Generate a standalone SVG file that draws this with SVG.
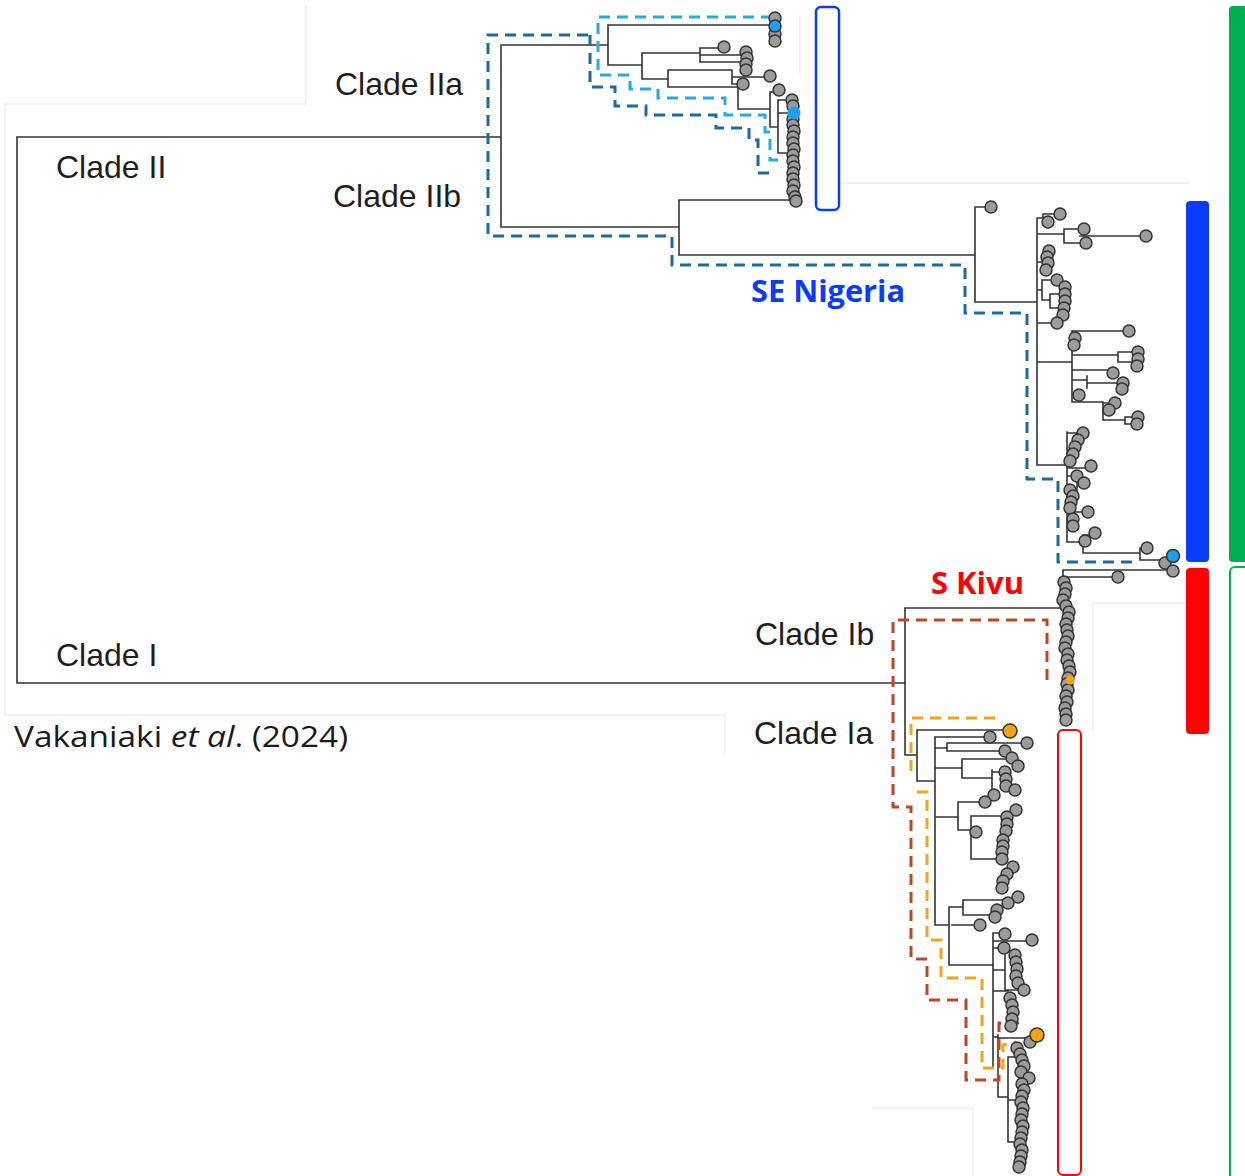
<svg xmlns="http://www.w3.org/2000/svg" width="1245" height="1176" viewBox="0 0 1245 1176">
<style>
.br{fill:none;stroke:#333;stroke-width:1.6;stroke-linecap:square}
.tip circle{fill:#9b9b9b;stroke:#333;stroke-width:1.5}
.frame{fill:none;stroke:#e4e4e4;stroke-width:1}
.dd{fill:none;stroke:#1d6a9c;stroke-width:3;stroke-dasharray:11 7}
.dl{fill:none;stroke:#29a9e1;stroke-width:3;stroke-dasharray:11 7}
.dr{fill:none;stroke:#c0461e;stroke-width:3;stroke-dasharray:11 7}
.do{fill:none;stroke:#f5a418;stroke-width:3;stroke-dasharray:11 7}
.clade{font-family:"Liberation Sans",Arial,sans-serif;font-size:32px;fill:#1e1e1e}
.cit{font-family:"Open Sans","Liberation Sans",sans-serif;font-size:30px;fill:#1a1a1a}
.reg{font-family:"Open Sans","Liberation Sans",sans-serif;font-size:30px;font-weight:bold}
</style>
<rect width="1245" height="1176" fill="#ffffff"/>
<g id="frames">
<path class="frame" d="M5,104 H306 V5 M5,104 V715 H725 V755 M800,15 V75 M838,183 H1190 M1093,730 V603 H1185 M872,1108 H973 V1176"/>
</g>
<g id="connectors">
<path class="br" d="M17,137 V683 M17,137 H501 M17,683 H905
M501,45 V227 M501,45 H608 M608,25 V65 M608,25 H775 M608,65 H642 M642,53 V79 M642,53 H700 M700,48 V62 M700,48 H724 M700,55 H745 M700,62 H745
M642,79 H668 M668,70 V87 M668,70 H732 M732,70 V84 M732,77 H770 M732,84 H743 M668,87 H738 M738,87 V109 M738,109 H770 M770,92 V127 M770,92 H778 M770,127 H778 M778,100 V153 M778,100 H790 M778,113 H790 M778,153 H790
M501,227 H679 M679,200 V255 M679,200 H793 M679,255 H975
M975,207 V302 M975,207 H991 M975,302 H1037
M1037,218 V465 M1037,218 H1043 M1043,214 V222 M1043,214 H1060 M1043,222 H1048 M1037,234 H1064 M1064,229 V243 M1064,229 H1084 M1064,243 H1086 M1080,236 H1146 M1037,262 H1044
M1037,290 H1042 M1042,280 V300 M1042,280 H1057 M1042,300 H1050 M1050,294 V308 M1050,294 H1063 M1050,308 H1063 M1037,323 H1057 M1037,362 H1072
M1072,331 V402 M1072,331 H1129 M1072,340 H1075 M1072,355 H1118 M1118,352 V362 M1118,352 H1138 M1118,362 H1138 M1072,370 H1107 M1072,380 H1087 M1087,376 V388 M1087,383 H1123 M1072,395 H1079 M1072,402 H1103 M1103,402 V420 M1103,403 H1115 M1103,420 H1125 M1125,417 V424 M1125,417 H1138 M1125,424 H1137
M1037,465 H1067 M1067,432 V542 M1067,433 H1083 M1067,450 H1073 M1067,468 H1091 M1067,476 H1077 M1077,476 V490 M1077,483 H1084 M1067,500 H1070 M1067,512 H1088 M1067,522 H1073 M1067,542 H1083 M1083,535 V553 M1083,535 H1095 M1083,553 H1140 M1140,548 V560 M1140,548 H1147 M1140,560 H1165
M1063,570 V608 M1063,570 H1173 M1063,577 H1118
M905,608 V755 M905,608 H1063 M905,755 H917 M917,730 V781 M917,730 H1004 M917,781 H935
M935,737 V925 M935,737 H985 M935,748 H947 M947,743 V751 M947,743 H1022 M947,751 H1000 M935,768 H962 M962,759 V778 M962,759 H1008 M962,778 H992 M992,770 V798 M992,772 H1005 M992,798 H994
M935,817 H958 M958,802 V830 M958,802 H985 M958,830 H971 M971,816 V859 M971,816 H1003 M971,832 H976 M971,859 H998
M935,925 H949 M949,907 V965 M949,907 H963 M963,900 V915 M963,900 H1010 M963,915 H990 M952,925 H977
M949,965 H993 M993,933 V1067 M993,933 H1005 M993,941 H1027 M993,948 H1000 M993,970 H1005 M1005,955 V990 M1005,990 H1020 M993,991 H1008 M1008,995 V1026 M993,1037 H998 M998,1035 V1097 M998,1038 H1030 M998,1097 H1008 M1008,1057 V1142 M1008,1057 H1017 M1008,1100 H1020 M1008,1142 H1020"/>
</g>
<g id="clade-outlines">
<path id="outline-IIa" class="dl" d="M772,17 H598 V75 H630 V89 H658 V98 H725 V115 H765 V132 H770 V160 H780"/>
<path id="outline-II" class="dd" d="M588,35 H488 V236 H672 V265 H965 V313 H1027 V479 H1058 V562 H1135 M590,35 V87 H615 V106 H646 V115 H716 V128 H749 V140 H758 V173 H773"/>
<path id="outline-I" class="dr" d="M1047,680 V620 H893 V807 H911 V959 H927 V1000 H966 V1080 H999 V1023 H1025"/>
<path id="outline-Ia" class="do" d="M995,718 H911 V777 M917,792 H927 V940 H941 V978 H982 V1068 H1003 V1045 L1016,1042"/>
</g>
<g id="tips" class="tip">
<circle cx="775" cy="18" r="6"/><circle cx="775" cy="34" r="6"/><circle cx="775" cy="41" r="6"/>
<circle cx="724" cy="47" r="6"/><circle cx="746" cy="52" r="6"/><circle cx="747" cy="58" r="6"/><circle cx="746" cy="64" r="6"/><circle cx="746" cy="70" r="6"/>
<circle cx="770" cy="76" r="6"/><circle cx="743" cy="84" r="6"/><circle cx="779" cy="90" r="6"/>
<circle cx="792" cy="100" r="6"/><circle cx="793" cy="106" r="6"/><circle cx="793" cy="119" r="6"/><circle cx="793" cy="125" r="6"/><circle cx="794" cy="131" r="6"/><circle cx="793" cy="137" r="6"/><circle cx="793" cy="143" r="6"/><circle cx="794" cy="149" r="6"/><circle cx="793" cy="155" r="6"/><circle cx="793" cy="161" r="6"/><circle cx="794" cy="167" r="6"/><circle cx="793" cy="173" r="6"/><circle cx="793" cy="179" r="6"/><circle cx="794" cy="185" r="6"/><circle cx="793" cy="191" r="6"/><circle cx="795" cy="197" r="6"/><circle cx="796" cy="201" r="6"/>
<circle cx="991" cy="207" r="6"/><circle cx="1060" cy="214" r="6"/><circle cx="1048" cy="222" r="6"/><circle cx="1084" cy="229" r="6"/><circle cx="1086" cy="243" r="6"/><circle cx="1146" cy="236" r="6"/>
<circle cx="1049" cy="251" r="6"/><circle cx="1047" cy="257" r="6"/><circle cx="1048" cy="263" r="6"/><circle cx="1046" cy="270" r="6"/><circle cx="1057" cy="280" r="6"/>
<circle cx="1065" cy="287" r="6"/><circle cx="1065" cy="294" r="6"/><circle cx="1065" cy="301" r="6"/><circle cx="1064" cy="308" r="6"/><circle cx="1063" cy="315" r="6"/><circle cx="1057" cy="323" r="6"/>
<circle cx="1129" cy="331" r="6"/><circle cx="1075" cy="338" r="6"/><circle cx="1074" cy="345" r="6"/><circle cx="1138" cy="352" r="6"/><circle cx="1138" cy="359" r="6"/><circle cx="1137" cy="366" r="6"/>
<circle cx="1113" cy="373" r="6"/><circle cx="1123" cy="383" r="6"/><circle cx="1122" cy="389" r="6"/><circle cx="1079" cy="395" r="6"/><circle cx="1115" cy="403" r="6"/><circle cx="1109" cy="410" r="6"/><circle cx="1138" cy="417" r="6"/><circle cx="1137" cy="424" r="6"/>
<circle cx="1083" cy="433" r="6"/><circle cx="1078" cy="440" r="6"/><circle cx="1075" cy="447" r="6"/><circle cx="1073" cy="454" r="6"/><circle cx="1070" cy="461" r="6"/><circle cx="1091" cy="466" r="6"/><circle cx="1077" cy="476" r="6"/><circle cx="1084" cy="483" r="6"/>
<circle cx="1070" cy="490" r="6"/><circle cx="1073" cy="496" r="6"/><circle cx="1071" cy="502" r="6"/><circle cx="1070" cy="508" r="6"/><circle cx="1088" cy="512" r="6"/><circle cx="1073" cy="519" r="6"/><circle cx="1073" cy="526" r="6"/><circle cx="1095" cy="533" r="6"/><circle cx="1085" cy="541" r="6"/>
<circle cx="1147" cy="548" r="6"/><circle cx="1165" cy="563" r="6"/><circle cx="1173" cy="571" r="6"/><circle cx="1118" cy="577" r="6"/>
<circle cx="1064" cy="582" r="6"/><circle cx="1066" cy="588" r="6"/><circle cx="1065" cy="594" r="6"/><circle cx="1063" cy="600" r="6"/><circle cx="1066" cy="606" r="6"/><circle cx="1069" cy="612" r="6"/><circle cx="1068" cy="618" r="6"/><circle cx="1066" cy="624" r="6"/><circle cx="1067" cy="630" r="6"/><circle cx="1068" cy="636" r="6"/><circle cx="1066" cy="642" r="6"/><circle cx="1065" cy="648" r="6"/><circle cx="1068" cy="654" r="6"/><circle cx="1067" cy="660" r="6"/><circle cx="1069" cy="666" r="6"/><circle cx="1070" cy="672" r="6"/><circle cx="1068" cy="678" r="6"/><circle cx="1067" cy="684" r="6"/><circle cx="1068" cy="690" r="6"/><circle cx="1066" cy="696" r="6"/><circle cx="1067" cy="702" r="6"/><circle cx="1065" cy="708" r="6"/><circle cx="1066" cy="714" r="6"/><circle cx="1066" cy="720" r="6"/>
<circle cx="990" cy="737" r="6"/><circle cx="1027" cy="743" r="6"/><circle cx="1005" cy="751" r="6"/><circle cx="1012" cy="758" r="6"/><circle cx="1018" cy="766" r="6"/><circle cx="1005" cy="772" r="6"/><circle cx="1006" cy="779" r="6"/><circle cx="1006" cy="786" r="6"/><circle cx="1015" cy="790" r="6"/><circle cx="994" cy="795" r="6"/><circle cx="985" cy="802" r="6"/>
<circle cx="1016" cy="810" r="6"/><circle cx="1007" cy="817" r="6"/><circle cx="1007" cy="824" r="6"/><circle cx="1006" cy="831" r="6"/><circle cx="976" cy="832" r="6"/><circle cx="1003" cy="840" r="6"/><circle cx="1003" cy="846" r="6"/><circle cx="1002" cy="852" r="6"/><circle cx="1002" cy="859" r="6"/><circle cx="1013" cy="867" r="6"/><circle cx="1007" cy="874" r="6"/><circle cx="1003" cy="881" r="6"/><circle cx="1002" cy="888" r="6"/>
<circle cx="1018" cy="897" r="6"/><circle cx="1008" cy="903" r="6"/><circle cx="997" cy="910" r="6"/><circle cx="995" cy="917" r="6"/><circle cx="980" cy="925" r="6"/>
<circle cx="1005" cy="934" r="6"/><circle cx="1032" cy="940" r="6"/><circle cx="1004" cy="948" r="6"/><circle cx="1015" cy="955" r="6"/><circle cx="1016" cy="962" r="6"/><circle cx="1017" cy="969" r="6"/><circle cx="1016" cy="976" r="6"/><circle cx="1018" cy="983" r="6"/><circle cx="1024" cy="990" r="6"/>
<circle cx="1010" cy="998" r="6"/><circle cx="1012" cy="1005" r="6"/><circle cx="1013" cy="1012" r="6"/><circle cx="1012" cy="1019" r="6"/><circle cx="1011" cy="1026" r="6"/><circle cx="1030" cy="1042" r="6"/>
<circle cx="1017" cy="1048" r="6"/><circle cx="1020" cy="1054" r="6"/><circle cx="1022" cy="1060" r="6"/><circle cx="1024" cy="1066" r="6"/><circle cx="1021" cy="1072" r="6"/><circle cx="1029" cy="1078" r="6"/><circle cx="1022" cy="1084" r="6"/><circle cx="1024" cy="1090" r="6"/><circle cx="1022" cy="1096" r="6"/><circle cx="1021" cy="1102" r="6"/><circle cx="1023" cy="1108" r="6"/><circle cx="1022" cy="1114" r="6"/><circle cx="1021" cy="1120" r="6"/><circle cx="1023" cy="1126" r="6"/><circle cx="1022" cy="1132" r="6"/><circle cx="1021" cy="1138" r="6"/><circle cx="1020" cy="1144" r="6"/><circle cx="1022" cy="1150" r="6"/><circle cx="1021" cy="1156" r="6"/><circle cx="1020" cy="1162" r="6"/><circle cx="1019" cy="1167" r="6"/>
<circle cx="775" cy="26" r="6" style="fill:#1ea0ea"/><circle cx="794" cy="113" r="6.5" style="fill:#1ea0ea;stroke:none"/><circle cx="1173" cy="556" r="6.5" style="fill:#1ea0ea;stroke:#333"/>
<circle cx="1070" cy="680" r="4.5" style="fill:#f5a418;stroke:none"/><circle cx="1010" cy="731" r="7" style="fill:#f5a418"/><circle cx="1037" cy="1035" r="7" style="fill:#f5a418"/>
</g>
<g id="labels">
<text id="label-clade-IIa" class="clade" x="335" y="95">Clade IIa</text>
<text id="label-clade-II" class="clade" x="56" y="178">Clade II</text>
<text id="label-clade-IIb" class="clade" x="333" y="207">Clade IIb</text>
<text id="label-clade-Ib" class="clade" x="755" y="645">Clade Ib</text>
<text id="label-clade-I" class="clade" x="56" y="666">Clade I</text>
<text id="label-clade-Ia" class="clade" x="754" y="744">Clade Ia</text>
<text id="citation" class="cit" x="14" y="747" textLength="334" lengthAdjust="spacingAndGlyphs">Vakaniaki <tspan font-style="italic">et al</tspan>. (2024)</text>
<text id="label-se-nigeria" class="reg" x="751" y="302" fill="#0a3bff" textLength="154" lengthAdjust="spacingAndGlyphs">SE Nigeria</text>
<text id="label-s-kivu" class="reg" x="931" y="594" fill="#ff0000" textLength="93" lengthAdjust="spacingAndGlyphs">S Kivu</text>
</g>
<g id="bars">
<rect id="box-blue" x="816" y="7" width="23" height="203" rx="5" fill="none" stroke="#0a3bff" stroke-width="2.5"/>
<rect id="box-red" x="1058" y="730" width="23" height="445" rx="5" fill="none" stroke="#ff0000" stroke-width="2"/>
<rect id="bar-blue" x="1186" y="201" width="23" height="361" rx="4" fill="#0a3bff"/>
<rect id="bar-red" x="1186" y="568" width="23" height="166" rx="4" fill="#ff0000"/>
<rect id="bar-green" x="1229" y="6" width="24" height="556" rx="4" fill="#00b050"/>
<rect id="box-green" x="1230" y="567" width="24" height="620" rx="5" fill="none" stroke="#00b050" stroke-width="2"/>
</g>
</svg>
